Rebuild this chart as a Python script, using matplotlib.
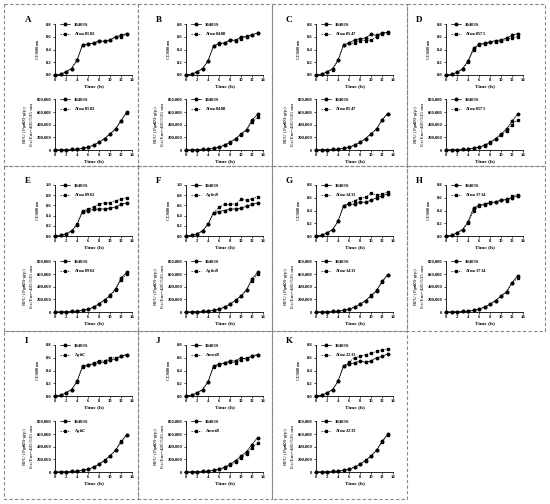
import matplotlib
matplotlib.use("Agg")
import matplotlib.pyplot as plt
from matplotlib.lines import Line2D
from matplotlib.ticker import FuncFormatter

plt.rcParams["font.family"] = ["Liberation Serif", "DejaVu Serif"]
plt.rcParams["font.weight"] = "bold"
plt.rcParams["mathtext.fontset"] = "custom"
plt.rcParams["mathtext.rm"] = "Liberation Serif:bold"
plt.rcParams["mathtext.it"] = "Liberation Serif:italic:bold"

time_h = [0, 1, 2, 3, 4, 5, 6, 7, 8, 9, 10, 11, 12, 13]

panel_letters = ["A", "B", "C", "D", "E", "F", "G", "H", "I", "J", "K"]
mutant_names = ["lmo0582", "lmo0488", "lmo0547", "lmo0575", "lmo0962", "glnR",
                "lmo1411", "lmo1714", "gltC", "mntR", "lmo2233"]
od_top = [0.8, 0.8, 0.8, 0.8, 1.0, 1.0, 0.8, 0.8, 0.8, 0.8, 0.8]

# OD600 growth curves (wild type 10403S / deletion mutant)
od_wt = [
    [0, 0.01, 0.05, 0.10, 0.23, 0.47, 0.49, 0.50, 0.53, 0.53, 0.55, 0.60, 0.62, 0.65],
    [0, 0.01, 0.05, 0.10, 0.22, 0.45, 0.50, 0.50, 0.55, 0.54, 0.60, 0.60, 0.63, 0.66],
    [0, 0.01, 0.05, 0.10, 0.23, 0.47, 0.50, 0.55, 0.57, 0.58, 0.64, 0.62, 0.66, 0.67],
    [0, 0.01, 0.04, 0.10, 0.22, 0.42, 0.48, 0.50, 0.52, 0.54, 0.55, 0.58, 0.62, 0.65],
    [0, 0.01, 0.04, 0.10, 0.22, 0.48, 0.50, 0.52, 0.53, 0.53, 0.55, 0.57, 0.62, 0.65],
    [0, 0.01, 0.04, 0.10, 0.23, 0.46, 0.48, 0.50, 0.53, 0.53, 0.55, 0.58, 0.62, 0.65],
    [0, 0.01, 0.05, 0.10, 0.23, 0.47, 0.50, 0.50, 0.53, 0.53, 0.56, 0.60, 0.63, 0.66],
    [0, 0.01, 0.05, 0.10, 0.22, 0.44, 0.48, 0.50, 0.52, 0.53, 0.56, 0.58, 0.60, 0.63],
    [0, 0.01, 0.05, 0.10, 0.23, 0.47, 0.49, 0.50, 0.53, 0.53, 0.57, 0.58, 0.62, 0.65],
    [0, 0.01, 0.05, 0.10, 0.22, 0.47, 0.50, 0.52, 0.55, 0.55, 0.60, 0.58, 0.63, 0.65],
    [0, 0.01, 0.05, 0.10, 0.23, 0.47, 0.50, 0.52, 0.55, 0.53, 0.55, 0.60, 0.62, 0.66],
]
od_mut = [
    [0, 0.01, 0.05, 0.10, 0.24, 0.47, 0.49, 0.50, 0.54, 0.53, 0.55, 0.60, 0.60, 0.64],
    [0, 0.01, 0.05, 0.10, 0.22, 0.46, 0.49, 0.50, 0.55, 0.55, 0.57, 0.61, 0.63, 0.66],
    [0, 0.01, 0.05, 0.08, 0.23, 0.47, 0.50, 0.50, 0.54, 0.54, 0.55, 0.60, 0.65, 0.66],
    [0, 0.01, 0.04, 0.09, 0.20, 0.40, 0.47, 0.49, 0.51, 0.52, 0.53, 0.56, 0.58, 0.60],
    [0, 0.01, 0.04, 0.10, 0.23, 0.50, 0.52, 0.57, 0.62, 0.65, 0.65, 0.69, 0.72, 0.75],
    [0, 0.01, 0.04, 0.10, 0.23, 0.45, 0.56, 0.62, 0.62, 0.63, 0.72, 0.70, 0.73, 0.77],
    [0, 0.01, 0.05, 0.10, 0.23, 0.47, 0.52, 0.55, 0.60, 0.61, 0.67, 0.64, 0.66, 0.69],
    [0, 0.01, 0.05, 0.10, 0.20, 0.40, 0.47, 0.49, 0.54, 0.53, 0.57, 0.55, 0.62, 0.65],
    [0, 0.01, 0.05, 0.10, 0.22, 0.45, 0.48, 0.52, 0.55, 0.55, 0.60, 0.60, 0.62, 0.65],
    [0, 0.01, 0.05, 0.10, 0.22, 0.46, 0.49, 0.51, 0.53, 0.52, 0.57, 0.60, 0.62, 0.64],
    [0, 0.01, 0.05, 0.10, 0.23, 0.47, 0.53, 0.60, 0.62, 0.65, 0.67, 0.70, 0.72, 0.74],
]

# RFU (PgadD3-gfp) in thousands
rfu_wt = [
    [0, 3, 5, 8, 12, 25, 45, 75, 120, 180, 250, 330, 460, 590],
    [0, 3, 5, 8, 12, 25, 45, 75, 120, 180, 250, 320, 470, 560],
    [0, 3, 5, 8, 12, 25, 45, 75, 120, 180, 250, 330, 470, 570],
    [0, 3, 5, 8, 12, 25, 45, 75, 120, 180, 250, 330, 450, 560],
    [0, 3, 5, 8, 12, 25, 45, 75, 130, 190, 260, 360, 530, 620],
    [0, 3, 5, 8, 12, 25, 45, 75, 125, 185, 255, 350, 520, 620],
    [0, 3, 5, 8, 12, 25, 45, 75, 120, 180, 250, 330, 480, 580],
    [0, 3, 5, 8, 12, 25, 45, 75, 120, 180, 250, 320, 460, 570],
    [0, 3, 5, 8, 12, 25, 45, 75, 120, 180, 250, 340, 470, 580],
    [0, 3, 5, 8, 12, 25, 45, 75, 120, 180, 250, 320, 430, 540],
    [0, 3, 5, 8, 12, 25, 45, 75, 120, 180, 250, 340, 480, 590],
]
rfu_mut = [
    [0, 3, 5, 8, 12, 25, 45, 75, 120, 180, 250, 330, 450, 580],
    [0, 3, 5, 8, 12, 25, 45, 75, 115, 175, 240, 310, 440, 510],
    [0, 3, 5, 8, 12, 25, 45, 75, 120, 180, 255, 330, 470, 570],
    [0, 3, 5, 8, 12, 25, 45, 70, 110, 165, 230, 300, 400, 470],
    [0, 3, 5, 8, 12, 25, 45, 75, 125, 180, 250, 350, 500, 600],
    [0, 3, 5, 8, 12, 25, 45, 75, 120, 180, 245, 340, 490, 590],
    [0, 3, 5, 8, 12, 25, 45, 75, 120, 180, 260, 340, 470, 580],
    [0, 3, 5, 8, 12, 25, 45, 75, 120, 180, 245, 310, 450, 530],
    [0, 3, 5, 8, 12, 25, 45, 75, 125, 185, 255, 340, 480, 580],
    [0, 3, 5, 8, 12, 25, 40, 65, 105, 160, 220, 290, 380, 450],
    [0, 3, 5, 8, 12, 25, 45, 75, 120, 185, 250, 340, 470, 580],
]

W, H = 550, 504
fig = plt.figure(figsize=(W / 100, H / 100), dpi=100)

col_left = [4, 138, 272, 407]
col_right = [138, 272, 407, 545]
row_top = [4, 166, 331]
row_bot = [166, 331, 499]
ax_left = [55, 186, 316, 446]
od_ax_top = [24, 185, 345]
rfu_ax_top = [99, 261, 421]
ax_w, ax_h = 77, 51

tick_fs = 3.3
lab_fs = 3.8
ms = 1.8


def px_rect(x, y, w, h):
    return [x / W, 1 - (y + h) / H, w / W, h / H]


def style_axes(ax):
    for s in ["top", "right"]:
        ax.spines[s].set_visible(False)
    for s in ["left", "bottom"]:
        ax.spines[s].set_linewidth(0.6)
    ax.tick_params(labelsize=tick_fs, length=1.5, width=0.5, pad=1)
    ax.set_xlim(0, 14)
    ax.set_xticks(range(0, 15, 2))
    ax.set_xlabel("Time (h)", fontsize=lab_fs, fontweight="bold", labelpad=1.5)


def draw_pair(ax, y1, y2):
    ax.plot(time_h, y1, color="black", lw=0.5, ls="-", marker="o", ms=ms,
            clip_on=False)
    ax.plot(time_h, y2, color="black", lw=0.5, ls=(0, (2, 1.5)), marker="s",
            ms=ms, clip_on=False)


def add_legend(ax, name):
    handles = [
        Line2D([], [], color="black", lw=0.5, marker="o", ms=ms),
        Line2D([], [], color="black", lw=0.5, ls=(0, (2, 1.5)), marker="s", ms=ms),
    ]
    labels = ["10403S", r"$\Delta$" + "$\\it{" + name + "}$"]
    ax.legend(handles, labels, loc="upper left", bbox_to_anchor=(0.03, 1.08),
              frameon=False, fontsize=3.4, handlelength=2.2, handletextpad=0.8,
              labelspacing=0.8, borderpad=0)


for i in range(11):
    r, c = divmod(i, 4)

    ax1 = fig.add_axes(px_rect(ax_left[c], od_ax_top[r], ax_w, ax_h))
    draw_pair(ax1, od_wt[i], od_mut[i])
    style_axes(ax1)
    ax1.set_ylim(0, od_top[i])
    step = 0.2
    n = int(round(od_top[i] / step))
    ax1.set_yticks([k * step for k in range(n + 1)])
    ax1.yaxis.set_major_formatter(FuncFormatter(lambda v, p: f"{v:.1f}"))
    ax1.set_ylabel(r"OD$_{600\ nm}$", fontsize=lab_fs, labelpad=3)
    add_legend(ax1, mutant_names[i])

    ax2 = fig.add_axes(px_rect(ax_left[c], rfu_ax_top[r], ax_w, ax_h))
    draw_pair(ax2, [v * 1000 for v in rfu_wt[i]], [v * 1000 for v in rfu_mut[i]])
    style_axes(ax2)
    ax2.set_ylim(0, 800000)
    ax2.set_yticks(range(0, 800001, 200000))
    ax2.yaxis.set_major_formatter(FuncFormatter(lambda v, p: f"{int(v):,}"))
    ax2.set_ylabel("RFU (P$_{gadD3}$-gfp)\nEx/Em=485/535 nm", fontsize=lab_fs,
                   labelpad=2, linespacing=1.1)
    add_legend(ax2, mutant_names[i])

    fig.text((ax_left[c] - 30) / W, 1 - (od_ax_top[r] - 4) / H, panel_letters[i],
             fontsize=6.5, fontweight="bold", ha="left", va="center")

# dashed frames around panels
dash = dict(color="#888888", lw=0.8, ls=(0, (3, 2)))
for i in range(11):
    r, c = divmod(i, 4)
    x0, x1 = col_left[c] / W, col_right[c] / W
    y0, y1 = 1 - row_top[r] / H, 1 - row_bot[r] / H
    fig.add_artist(Line2D([x0, x1, x1, x0, x0], [y0, y0, y1, y1, y0], **dash))

fig.savefig("out.png", dpi=100, facecolor="white")
